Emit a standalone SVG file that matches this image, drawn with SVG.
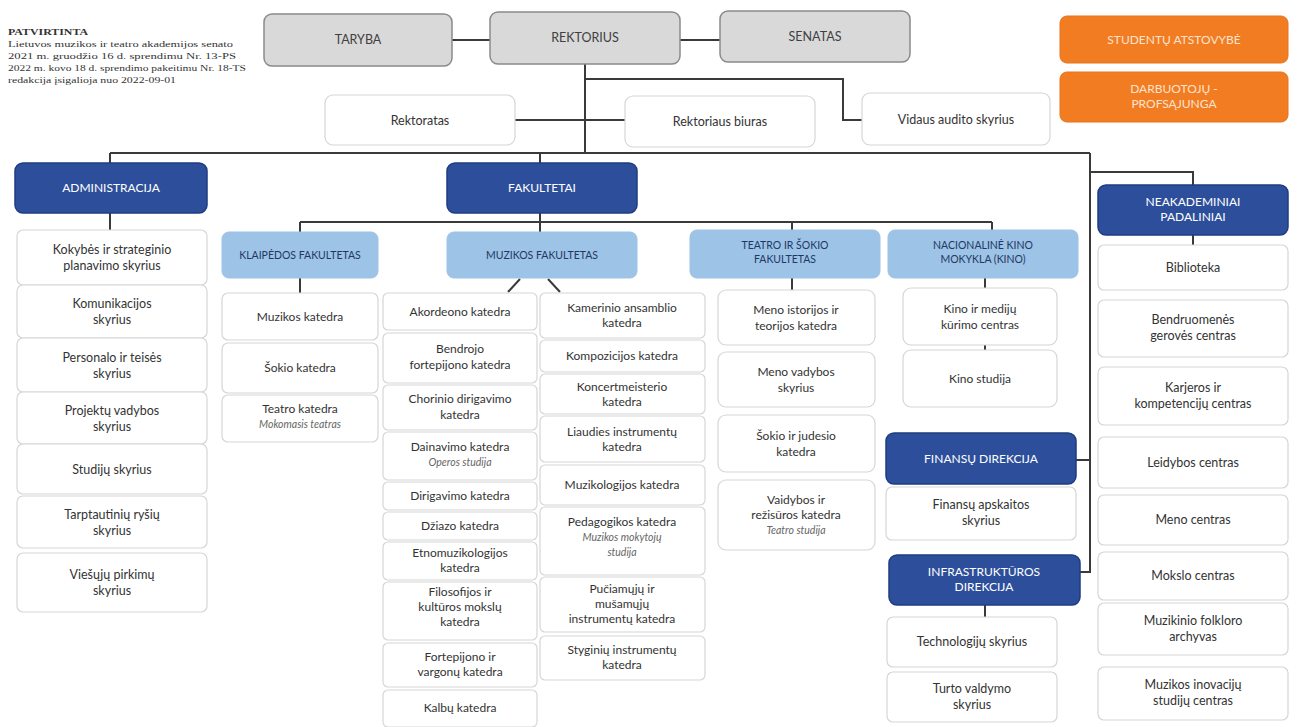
<svg xmlns="http://www.w3.org/2000/svg" width="1298" height="727" viewBox="0 0 1298 727">
<style>
.g{fill:#d9d9d9;stroke:#8a8a8a;stroke-width:1.5}
.w{fill:#fff;stroke:#d6d6d6;stroke-width:1.2}
.d{fill:#2d4f9b;stroke:#1f3c80;stroke-width:1.5}
.l{fill:#9dc3e6;stroke:#9dc3e6;stroke-width:1}
.o{fill:#f27c21;stroke:#e8741c;stroke-width:1}
text{font-family:Lato,"Liberation Sans",sans-serif;text-anchor:middle}
.t{font-size:12.5px;fill:#333}
.s{font-size:12px;fill:#333}
.i{font-size:10.5px;fill:#666;font-style:italic}
.th{font-size:12px;fill:#fff}
.tg{font-size:12.5px;fill:#404040}
.tf{font-size:10.5px;fill:#1f3864}
.to{font-size:12px;fill:#fde3cf}
.n{font-family:"Liberation Serif",serif;text-anchor:start;font-size:8px;fill:#333}
.c{fill:none;stroke:#3a3a3a;stroke-width:2}
</style>

<g id="note">
<text class="n" x="8" y="35" font-weight="bold" textLength="80" lengthAdjust="spacingAndGlyphs">PATVIRTINTA</text>
<text class="n" x="8" y="47" textLength="225" lengthAdjust="spacingAndGlyphs">Lietuvos muzikos ir teatro akademijos senato</text>
<text class="n" x="8" y="59" textLength="228" lengthAdjust="spacingAndGlyphs">2021 m. gruodžio 16 d. sprendimu Nr. 13-PS</text>
<text class="n" x="8" y="71" textLength="238" lengthAdjust="spacingAndGlyphs">2022 m. kovo 18 d. sprendimo pakeitimu Nr. 18-TS</text>
<text class="n" x="8" y="83" textLength="168" lengthAdjust="spacingAndGlyphs">redakcija įsigalioja nuo 2022-09-01</text>
</g>

<g id="connectors">
<path class="c" d="M452,40H490M680,40H720M585,64V153M585,79H843V120H862M515,120H625"/>
<path class="c" d="M110,153H1090M110,153V163M110,213V230M540,153V163"/>
<path class="c" d="M1090,153V572H1080M1090,460H1076M1090,172H1193V185M1193,235V245"/>
<path class="c" d="M540,213V222M300,222H992M300,222V232M540,222V232M792,222V230M992,222V230"/>
<path class="c" d="M300,278V293M520,279L508,292M548,279L560,292M792,278V290M985,278V288M985,345V350M985,605V617"/>
</g>

<g id="taryba"><rect class="g" x="264" y="14" width="188" height="52" rx="8"/><text class="tg" x="358" y="44">TARYBA</text></g>
<g id="rektorius"><rect class="g" x="490" y="12" width="190" height="52" rx="8"/><text class="tg" x="585" y="42">REKTORIUS</text></g>
<g id="senatas"><rect class="g" x="720" y="11" width="190" height="51" rx="8"/><text class="tg" x="815" y="41">SENATAS</text></g>
<g id="rektoratas"><rect class="w" x="325" y="95" width="190" height="50" rx="8"/><text class="t" x="420" y="124.5">Rektoratas</text></g>
<g id="rektoriaus-biuras"><rect class="w" x="625" y="96" width="190" height="51" rx="8"/><text class="t" x="720" y="126">Rektoriaus biuras</text></g>
<g id="vidaus-audito"><rect class="w" x="862" y="93" width="188" height="52" rx="8"/><text class="t" x="956" y="124">Vidaus audito skyrius</text></g>
<g id="studentu-atstovybe"><rect class="o" x="1060" y="16" width="228" height="47" rx="7"/><text class="to" x="1174" y="44">STUDENTŲ ATSTOVYBĖ</text></g>
<g id="profsajunga"><rect class="o" x="1060" y="72" width="228" height="50" rx="7"/><text class="to" x="1174" y="93">DARBUOTOJŲ -</text><text class="to" x="1174" y="108">PROFSĄJUNGA</text></g>

<g id="administracija"><rect class="d" x="15" y="163" width="192" height="50" rx="8"/><text class="th" x="111" y="192">ADMINISTRACIJA</text></g>
<g id="adm1"><rect class="w" x="17" y="230" width="190" height="55" rx="6"/><text class="t" x="112" y="254">Kokybės ir strateginio</text><text class="t" x="112" y="270">planavimo skyrius</text></g>
<g id="adm2"><rect class="w" x="17" y="285" width="190" height="53" rx="6"/><text class="t" x="112" y="308">Komunikacijos</text><text class="t" x="112" y="324">skyrius</text></g>
<g id="adm3"><rect class="w" x="17" y="338" width="190" height="54" rx="6"/><text class="t" x="112" y="361.5">Personalo ir teisės</text><text class="t" x="112" y="377.5">skyrius</text></g>
<g id="adm4"><rect class="w" x="17" y="392" width="190" height="52" rx="6"/><text class="t" x="112" y="414.5">Projektų vadybos</text><text class="t" x="112" y="430.5">skyrius</text></g>
<g id="adm5"><rect class="w" x="17" y="444" width="190" height="50" rx="6"/><text class="t" x="112" y="473.5">Studijų skyrius</text></g>
<g id="adm6"><rect class="w" x="17" y="496" width="190" height="52" rx="6"/><text class="t" x="112" y="518.5">Tarptautinių ryšių</text><text class="t" x="112" y="534.5">skyrius</text></g>
<g id="adm7"><rect class="w" x="17" y="553" width="190" height="59" rx="6"/><text class="t" x="112" y="579">Viešųjų pirkimų</text><text class="t" x="112" y="595">skyrius</text></g>

<g id="fakultetai"><rect class="d" x="447" y="163" width="190" height="50" rx="8"/><text class="th" x="542" y="192">FAKULTETAI</text></g>
<g id="klaipedos"><rect class="l" x="222" y="232" width="156" height="46" rx="7"/><text class="tf" x="300" y="259">KLAIPĖDOS FAKULTETAS</text></g>
<g id="muzikos"><rect class="l" x="447" y="232" width="190" height="46" rx="7"/><text class="tf" x="542" y="259">MUZIKOS FAKULTETAS</text></g>
<g id="teatro"><rect class="l" x="690" y="230" width="190" height="48" rx="7"/><text class="tf" x="785" y="249">TEATRO IR ŠOKIO</text><text class="tf" x="785" y="263">FAKULTETAS</text></g>
<g id="kino"><rect class="l" x="888" y="230" width="190" height="48" rx="7"/><text class="tf" x="983" y="249">NACIONALINĖ KINO</text><text class="tf" x="983" y="263">MOKYKLA (KINO)</text></g>

<g id="kl1"><rect class="w" x="222" y="293" width="156" height="47" rx="6"/><text class="s" x="300" y="321">Muzikos katedra</text></g>
<g id="kl2"><rect class="w" x="222" y="343" width="156" height="50" rx="6"/><text class="s" x="300" y="372">Šokio katedra</text></g>
<g id="kl3"><rect class="w" x="222" y="395" width="156" height="47" rx="6"/><text class="s" x="300" y="413">Teatro katedra</text><text class="i" x="300" y="428">Mokomasis teatras</text></g>

<g id="mz1"><rect class="w" x="383" y="293" width="154" height="37" rx="5"/><text class="s" x="460" y="316">Akordeono katedra</text></g>
<g id="mz2"><rect class="w" x="383" y="333" width="154" height="50" rx="5"/><text class="s" x="460" y="353">Bendrojo</text><text class="s" x="460" y="369">fortepijono katedra</text></g>
<g id="mz3"><rect class="w" x="383" y="385" width="154" height="45" rx="5"/><text class="s" x="460" y="403">Chorinio dirigavimo</text><text class="s" x="460" y="419">katedra</text></g>
<g id="mz4"><rect class="w" x="383" y="432" width="154" height="48" rx="5"/><text class="s" x="460" y="451">Dainavimo katedra</text><text class="i" x="460" y="466">Operos studija</text></g>
<g id="mz5"><rect class="w" x="383" y="482" width="154" height="28" rx="5"/><text class="s" x="460" y="500">Dirigavimo katedra</text></g>
<g id="mz6"><rect class="w" x="383" y="512" width="154" height="28" rx="5"/><text class="s" x="460" y="530">Džiazo katedra</text></g>
<g id="mz7"><rect class="w" x="383" y="542" width="154" height="38" rx="5"/><text class="s" x="460" y="557">Etnomuzikologijos</text><text class="s" x="460" y="572">katedra</text></g>
<g id="mz8"><rect class="w" x="383" y="582" width="154" height="58" rx="5"/><text class="s" x="460" y="596">Filosofijos ir</text><text class="s" x="460" y="611">kultūros mokslų</text><text class="s" x="460" y="626">katedra</text></g>
<g id="mz9"><rect class="w" x="383" y="643" width="154" height="44" rx="5"/><text class="s" x="460" y="661">Fortepijono ir</text><text class="s" x="460" y="676">vargonų katedra</text></g>
<g id="mz10"><rect class="w" x="383" y="690" width="154" height="37" rx="5"/><text class="s" x="460" y="712">Kalbų katedra</text></g>

<g id="mz11"><rect class="w" x="540" y="293" width="165" height="45" rx="5"/><text class="s" x="622" y="312">Kamerinio ansamblio</text><text class="s" x="622" y="327">katedra</text></g>
<g id="mz12"><rect class="w" x="540" y="340" width="165" height="32" rx="5"/><text class="s" x="622" y="360">Kompozicijos katedra</text></g>
<g id="mz13"><rect class="w" x="540" y="374" width="165" height="40" rx="5"/><text class="s" x="622" y="391">Koncertmeisterio</text><text class="s" x="622" y="406">katedra</text></g>
<g id="mz14"><rect class="w" x="540" y="416" width="165" height="46" rx="5"/><text class="s" x="622" y="436">Liaudies instrumentų</text><text class="s" x="622" y="451">katedra</text></g>
<g id="mz15"><rect class="w" x="540" y="465" width="165" height="40" rx="5"/><text class="s" x="622" y="489">Muzikologijos katedra</text></g>
<g id="mz16"><rect class="w" x="540" y="507" width="165" height="68" rx="5"/><text class="s" x="622" y="526">Pedagogikos katedra</text><text class="i" x="622" y="541">Muzikos mokytojų</text><text class="i" x="622" y="556">studija</text></g>
<g id="mz17"><rect class="w" x="540" y="577" width="165" height="55" rx="5"/><text class="s" x="622" y="593">Pučiamųjų ir</text><text class="s" x="622" y="608">mušamųjų</text><text class="s" x="622" y="623">instrumentų katedra</text></g>
<g id="mz18"><rect class="w" x="540" y="636" width="165" height="44" rx="5"/><text class="s" x="622" y="654">Styginių instrumentų</text><text class="s" x="622" y="669">katedra</text></g>

<g id="te1"><rect class="w" x="718" y="290" width="157" height="55" rx="8"/><text class="s" x="796" y="314">Meno istorijos ir</text><text class="s" x="796" y="330">teorijos katedra</text></g>
<g id="te2"><rect class="w" x="718" y="352" width="157" height="55" rx="8"/><text class="s" x="796" y="376">Meno vadybos</text><text class="s" x="796" y="392">skyrius</text></g>
<g id="te3"><rect class="w" x="718" y="415" width="157" height="57" rx="8"/><text class="s" x="796" y="440">Šokio ir judesio</text><text class="s" x="796" y="456">katedra</text></g>
<g id="te4"><rect class="w" x="718" y="480" width="157" height="70" rx="8"/><text class="s" x="796" y="504">Vaidybos ir</text><text class="s" x="796" y="519">režisūros katedra</text><text class="i" x="796" y="534">Teatro studija</text></g>

<g id="ki1"><rect class="w" x="903" y="288" width="154" height="57" rx="8"/><text class="s" x="980" y="313">Kino ir medijų</text><text class="s" x="980" y="329">kūrimo centras</text></g>
<g id="ki2"><rect class="w" x="903" y="350" width="154" height="57" rx="8"/><text class="s" x="980" y="383">Kino studija</text></g>

<g id="finansu"><rect class="d" x="886" y="433" width="190" height="51" rx="8"/><text class="th" x="981" y="463">FINANSŲ DIREKCIJA</text></g>
<g id="fin1"><rect class="w" x="886" y="487" width="190" height="53" rx="6"/><text class="t" x="981" y="509">Finansų apskaitos</text><text class="t" x="981" y="525">skyrius</text></g>
<g id="infra"><rect class="d" x="889" y="555" width="191" height="50" rx="8"/><text class="th" x="984" y="576">INFRASTRUKTŪROS</text><text class="th" x="984" y="591">DIREKCIJA</text></g>
<g id="inf1"><rect class="w" x="887" y="617" width="170" height="50" rx="6"/><text class="t" x="972" y="646">Technologijų skyrius</text></g>
<g id="inf2"><rect class="w" x="887" y="672" width="170" height="50" rx="6"/><text class="t" x="972" y="693">Turto valdymo</text><text class="t" x="972" y="709">skyrius</text></g>

<g id="neakademiniai"><rect class="d" x="1098" y="185" width="190" height="50" rx="8"/><text class="th" x="1193" y="206">NEAKADEMINIAI</text><text class="th" x="1193" y="221">PADALINIAI</text></g>
<g id="ne1"><rect class="w" x="1098" y="245" width="190" height="45" rx="6"/><text class="t" x="1193" y="272">Biblioteka</text></g>
<g id="ne2"><rect class="w" x="1098" y="300" width="190" height="57" rx="6"/><text class="t" x="1193" y="324">Bendruomenės</text><text class="t" x="1193" y="340">gerovės centras</text></g>
<g id="ne3"><rect class="w" x="1098" y="367" width="190" height="58" rx="6"/><text class="t" x="1193" y="392">Karjeros ir</text><text class="t" x="1193" y="408">kompetencijų centras</text></g>
<g id="ne4"><rect class="w" x="1098" y="437" width="190" height="51" rx="6"/><text class="t" x="1193" y="467">Leidybos centras</text></g>
<g id="ne5"><rect class="w" x="1098" y="495" width="190" height="50" rx="6"/><text class="t" x="1193" y="524">Meno centras</text></g>
<g id="ne6"><rect class="w" x="1098" y="552" width="190" height="48" rx="6"/><text class="t" x="1193" y="580">Mokslo centras</text></g>
<g id="ne7"><rect class="w" x="1098" y="603" width="190" height="52" rx="6"/><text class="t" x="1193" y="625">Muzikinio folkloro</text><text class="t" x="1193" y="641">archyvas</text></g>
<g id="ne8"><rect class="w" x="1098" y="667" width="190" height="53" rx="6"/><text class="t" x="1193" y="689">Muzikos inovacijų</text><text class="t" x="1193" y="705">studijų centras</text></g>
</svg>
